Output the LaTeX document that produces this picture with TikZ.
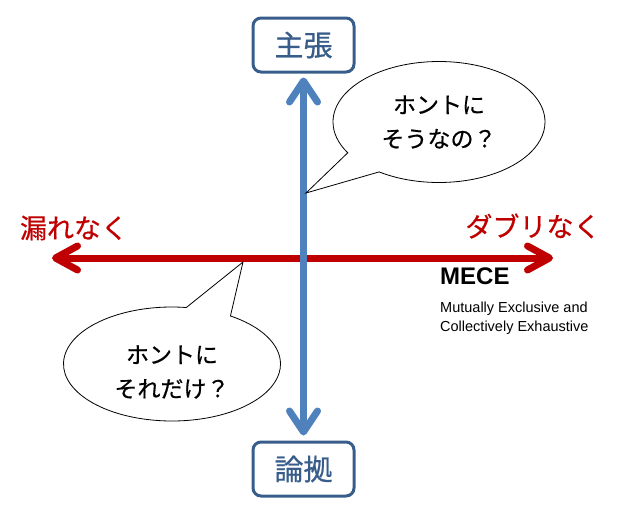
\documentclass[tikz,border=0pt]{standalone}
\usepackage{fontspec}
\setmainfont{Liberation Sans}
\newfontfamily\jpfont[FakeBold=0.6]{Noto Sans CJK JP}
\usetikzlibrary{arrows.meta,shapes.callouts}
\definecolor{axisblue}{HTML}{4F81BD}
\definecolor{boxblue}{HTML}{385D8A}
\definecolor{axisred}{HTML}{C00000}
\tikzset{
  keybox/.style    = { draw=boxblue, line width=3pt, rounded corners=8pt, minimum width=101pt,
                       minimum height=54pt, text=boxblue, font=\jpfont\fontsize{29}{29}\selectfont },
  vaxis/.style     = { axisblue, line width=7pt, {Straight Barb[length=21pt,width=28pt,round]}-{Straight Barb[length=21pt,width=28pt,round]} },
  haxis/.style     = { axisred, line width=7pt, {Straight Barb[length=22pt,width=24pt,round]}-{Straight Barb[length=22pt,width=24pt,round]} },
  sidelabel/.style = { text=axisred, font=\jpfont\fontsize{27}{27}\selectfont },
  bubble/.style    = { draw, ellipse callout, line width=0.8pt, callout absolute pointer={#1},
                       callout pointer arc=25, align=center, inner sep=0pt,
                       font=\jpfont\fontsize{23}{34}\selectfont }
}
\begin{document}
\begin{tikzpicture}[x=1pt,y=-1pt]
  \useasboundingbox (0,0) rectangle (623,509);
  % Draw boxes
  \node[keybox] (claim)  at (303.5,45)  {主張};
  \node[keybox] (ground) at (303.5,469) {論拠};
  % Draw axes
  \coordinate (west) at (52,258);
  \coordinate (east) at (553,258);
  \draw[haxis] (west) -- (east);
  \draw[vaxis, shorten <=4pt, shorten >=5pt] (claim.south) -- (ground.north);
  % Draw labels
  \node[sidelabel] (gapless) at (74,228) {漏れなく};
  \node[sidelabel] (nodup)   at (533,226) {ダブリなく};
  \node[anchor=west, inner sep=0pt, font=\bfseries\fontsize{24}{24}\selectfont] (mece) at (440,276) {MECE};
  \node[anchor=north west, align=left, inner sep=0pt, font=\fontsize{14.5}{19}\selectfont] (meaning) at (440,301.5)
    {Mutually Exclusive and\\Collectively Exhaustive};
  % Draw callouts
  \coordinate (tipA) at (306,193);
  \node[bubble={(tipA)}, minimum width=212pt, minimum height=121pt] (doubtA) at (439,122) {ホントに\\そうなの？};
  \coordinate (tipB) at (243,262);
  \node[bubble={(tipB)}, minimum width=217pt, minimum height=114pt, text height=68pt] (doubtB) at (172,364) {ホントに\\それだけ？};
\end{tikzpicture}
\end{document}
